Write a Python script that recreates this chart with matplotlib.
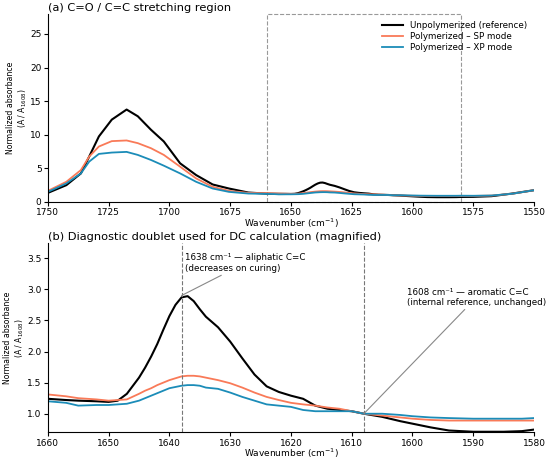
import numpy as np
import matplotlib
matplotlib.use('Agg')
import matplotlib.pyplot as plt
from matplotlib.patches import Rectangle

plt.rcParams['font.family'] = ['DejaVu Sans']

# wavenumber grid (cm-1), descending
wn = [1750, 1742.4, 1736.4, 1733, 1729, 1723.7, 1717.6, 1713, 1707.6, 1702.3,
      1695.6, 1689, 1682.2, 1675.5, 1667.5,
      1660, 1657, 1655, 1652, 1650, 1648.5, 1647, 1645, 1644, 1643, 1642, 1641,
      1640, 1639, 1638, 1637, 1636, 1635, 1634, 1632, 1630, 1628, 1626, 1624,
      1622, 1620, 1618, 1616, 1614, 1612, 1610, 1608, 1605, 1602, 1600, 1597,
      1594, 1590, 1585, 1582, 1580,
      1575, 1567.5, 1559, 1550]

unpoly = [1.35, 2.5, 4.25, 6.75, 9.75, 12.25, 13.75, 12.75, 10.75, 9.0,
          5.75, 4.0, 2.6, 2.0, 1.4,
          1.24, 1.22, 1.21, 1.20, 1.19, 1.21, 1.32, 1.58, 1.74, 1.92, 2.12, 2.35,
          2.57, 2.75, 2.87, 2.89, 2.81, 2.68, 2.56, 2.39, 2.16, 1.89, 1.63, 1.44,
          1.35, 1.29, 1.24, 1.13, 1.08, 1.06, 1.04, 1.0, 0.95, 0.88, 0.84, 0.78,
          0.73, 0.71, 0.71, 0.72, 0.745,
          0.76, 0.86, 1.25, 1.75]

sp_mode = [1.65, 3.0, 4.75, 6.75, 8.25, 9.05, 9.15, 8.75, 8.0, 7.0,
           5.25, 3.5, 2.25, 1.65, 1.35,
           1.31, 1.28, 1.25, 1.23, 1.21, 1.22, 1.23, 1.32, 1.37, 1.41, 1.46, 1.50,
           1.54, 1.57, 1.60, 1.61, 1.61, 1.60, 1.58, 1.54, 1.49, 1.42, 1.34, 1.27,
           1.22, 1.175, 1.15, 1.13, 1.10, 1.08, 1.04, 1.0, 0.97, 0.94, 0.92, 0.90,
           0.89, 0.89, 0.89, 0.89, 0.89,
           0.89, 0.95, 1.22, 1.75]

xp_mode = [1.5, 2.75, 4.25, 6.0, 7.15, 7.35, 7.45, 7.0, 6.25, 5.4,
           4.25, 3.0, 2.0, 1.5, 1.25,
           1.20, 1.175, 1.13, 1.14, 1.14, 1.15, 1.16, 1.21, 1.25, 1.29, 1.33, 1.37,
           1.41, 1.43, 1.45, 1.46, 1.46, 1.45, 1.42, 1.40, 1.34, 1.27, 1.21, 1.15,
           1.13, 1.11, 1.06, 1.04, 1.04, 1.04, 1.04, 1.0, 1.0, 0.98, 0.96, 0.94,
           0.93, 0.92, 0.92, 0.92, 0.93,
           0.92, 0.96, 1.22, 1.75]

labels = ['Unpolymerized (reference)', 'Polymerized – SP mode', 'Polymerized – XP mode']
colors = ['black', '#f97a58', '#1b8cb8']
widths = [1.5, 1.3, 1.3]
series = [unpoly, sp_mode, xp_mode]

fig = plt.figure(figsize=(5.5, 4.59), dpi=100)
ax1 = fig.add_axes([0.087, 0.56, 0.884, 0.41])
ax2 = fig.add_axes([0.087, 0.058, 0.884, 0.412])

for y, lab, c, lw in zip(series, labels, colors, widths):
    ax1.plot(wn, y, color=c, lw=lw, label=lab)
    ax2.plot(wn, y, color=c, lw=lw, label=lab)

# panel a
ax1.set_xlim(1750, 1550)
ax1.set_ylim(0, 28)
ax1.set_yticks([0, 5, 10, 15, 20, 25])
ax1.add_patch(Rectangle((1580, 0), 80, 28, fill=False, ls='--', lw=0.8,
                        ec='#999999', clip_on=False))
ax1.set_title('(a) C=O / C=C stretching region', loc='left', fontsize=8.2, pad=2)
ax1.legend(loc='upper right', frameon=False, fontsize=6.3, handlelength=2.4,
           borderaxespad=0.4, labelspacing=0.25)

# panel b
ax2.set_xlim(1660, 1580)
ax2.set_ylim(0.7, 3.74)
ax2.set_yticks([1.0, 1.5, 2.0, 2.5, 3.0, 3.5])
ax2.axvline(1638, color='#777777', ls='--', lw=0.8)
ax2.axvline(1608, color='#777777', ls='--', lw=0.8)
ax2.annotate('1638 cm⁻¹ — aliphatic C=C\n(decreases on curing)',
             xy=(1638, 2.9), xytext=(1637.4, 3.27), fontsize=6.3,
             ha='left', va='bottom', linespacing=1.15,
             arrowprops=dict(arrowstyle='-', color='#888888', lw=0.8,
                             shrinkA=0, shrinkB=0))
ax2.annotate('1608 cm⁻¹ — aromatic C=C\n(internal reference, unchanged)',
             xy=(1608, 1.0), xytext=(1600.9, 2.72), fontsize=6.3,
             ha='left', va='bottom', linespacing=1.15, annotation_clip=False,
             arrowprops=dict(arrowstyle='-', color='#888888', lw=0.8,
                             shrinkA=0, shrinkB=0))
ax2.set_title('(b) Diagnostic doublet used for DC calculation (magnified)',
              loc='left', fontsize=8.2, pad=2)

for ax in (ax1, ax2):
    ax.spines['top'].set_visible(False)
    ax.spines['right'].set_visible(False)
    ax.tick_params(labelsize=6.5, length=3, width=0.8, pad=1.5)
    ax.set_xlabel('Wavenumber (cm$^{-1}$)', fontsize=6.5, labelpad=-0.5)
    ax.set_ylabel('Normalized absorbance\n(A / A$_{1608}$)', fontsize=5.6,
                  labelpad=1, linespacing=1.1)

fig.savefig('out.png', dpi=100)
